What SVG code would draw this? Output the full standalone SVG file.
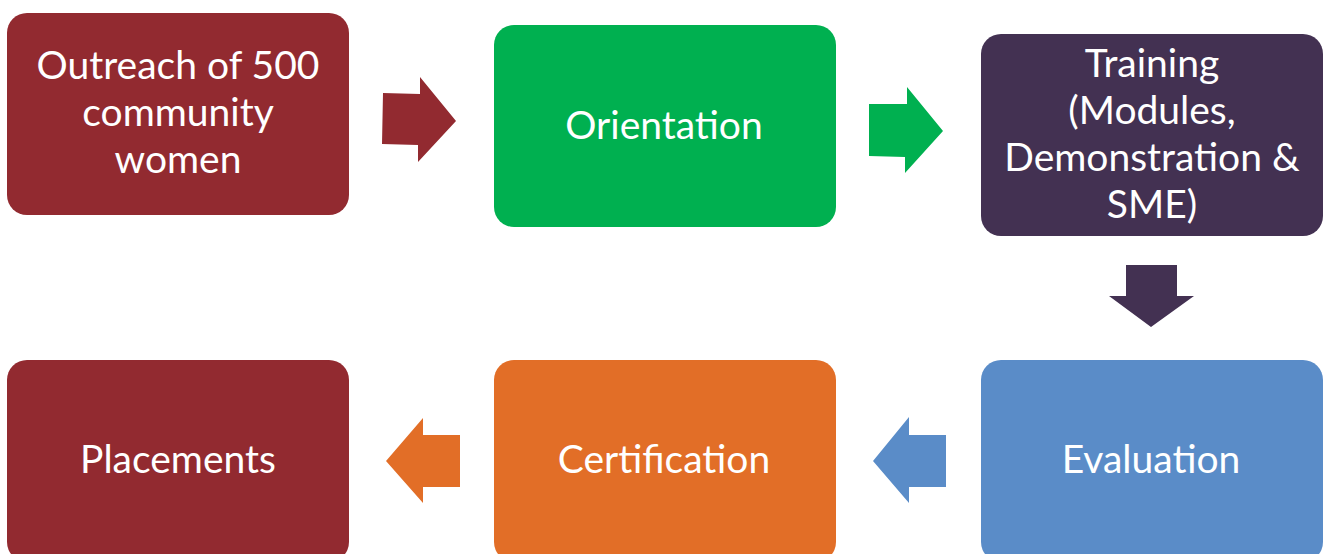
<svg xmlns="http://www.w3.org/2000/svg" width="1325" height="554" viewBox="0 0 1325 554">
<style>
.lbl{font-family:Lato,"Open Sans","Liberation Sans",sans-serif;font-size:39px;fill:#ffffff;text-anchor:middle}
.red{fill:#922A30}.grn{fill:#00B050}.pur{fill:#433152}.blu{fill:#5A8CC8}.org{fill:#E26E27}
</style>
<rect width="1325" height="554" fill="#ffffff"/>
<g id="n1"><rect class="red" x="7" y="13" width="342" height="202" rx="20"/>
<text class="lbl" x="178" y="79">Outreach of 500</text><text class="lbl" x="178" y="126">community</text><text class="lbl" x="178" y="173">women</text></g>
<g id="n2"><rect class="grn" x="494" y="25" width="342" height="202" rx="20"/>
<text class="lbl" x="664" y="139">Orientation</text></g>
<g id="n3"><rect class="pur" x="981" y="34" width="342" height="202" rx="20"/>
<text class="lbl" x="1152" y="77">Training</text><text class="lbl" x="1152" y="124">(Modules,</text><text class="lbl" x="1152" y="171">Demonstration &amp;</text><text class="lbl" x="1152" y="218">SME)</text></g>
<g id="n4"><rect class="blu" x="981" y="360" width="342" height="202" rx="20"/>
<text class="lbl" x="1151" y="473">Evaluation</text></g>
<g id="n5"><rect class="org" x="494" y="360" width="342" height="202" rx="20"/>
<text class="lbl" x="664" y="473">Certification</text></g>
<g id="n6"><rect class="red" x="7" y="360" width="342" height="202" rx="20"/>
<text class="lbl" x="178" y="473">Placements</text></g>
<g id="connectors">
<polygon class="red" points="383,93 420,94 420,77 456,121 418,162 418,145 382,144"/>
<polygon class="grn" points="869,104 907,104 907,87 943,131 905,173 905,157 869,156"/>
<polygon class="pur" points="1126,265 1177,265 1177,296 1194,296 1151,327 1109,296 1126,296"/>
<polygon class="blu" points="946,435 909,435 909,417 873,461 909,503 909,487 946,487"/>
<polygon class="org" points="460,435 423,435 423,418 386,461 423,503 423,487 460,487"/>
</g>
</svg>
